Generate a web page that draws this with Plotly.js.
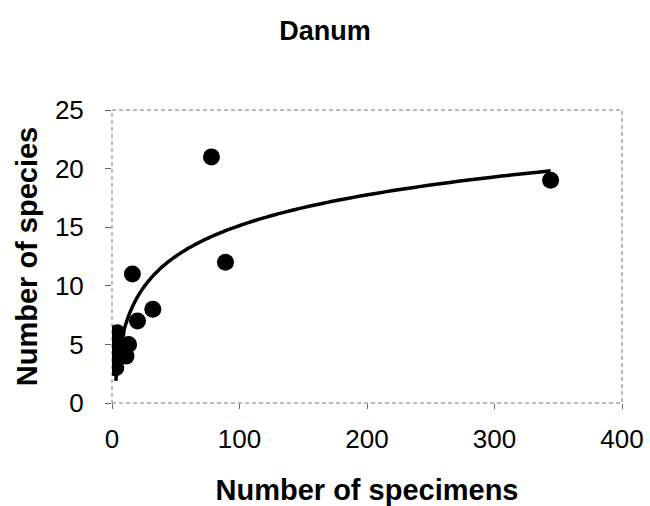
<!DOCTYPE html>
<html>
<head>
<meta charset="utf-8">
<script src="https://cdn.plot.ly/plotly-3.0.1.min.js"></script>
<style>
  html, body { margin: 0; padding: 0; background: #ffffff; }
  #chart { width: 650px; height: 506px; }
</style>
</head>
<body>
<div id="chart"></div>
<script>
// Data
const specimens = [3, 4, 5, 5, 11, 13, 16, 20, 32, 78, 89, 344];
const species   = [3, 6, 5, 4, 4, 5, 11, 7, 8, 21, 12, 19];

// Logarithmic trendline (y = a*ln(x) + b)
const trendA = 3.78;
const trendB = -2.27;

const xTickVals = [0, 100, 200, 300, 400];
const yTickVals = [0, 5, 10, 15, 20, 25];

const chartTitle = 'Danum';
const xTitle = 'Number of specimens';
const yTitle = 'Number of species';

// build trendline over the data's x span
const xMin = Math.min(...specimens), xMax = Math.max(...specimens);
const trendX = [], trendY = [];
const steps = 200;
for (let i = 0; i <= steps; i++) {
  const t = i / steps;
  const x = Math.exp(Math.log(xMin) + t * (Math.log(xMax) - Math.log(xMin)));
  trendX.push(x);
  trendY.push(trendA * Math.log(x) + trendB);
}

const font = 'Liberation Sans, Arial, sans-serif';

const traces = [
  {
    x: trendX, y: trendY, type: 'scatter', mode: 'lines',
    line: { color: '#000', width: 3.5, shape: 'spline' },
    hoverinfo: 'skip', showlegend: false
  },
  {
    x: specimens, y: species, type: 'scatter', mode: 'markers',
    marker: { color: '#000', size: 17, line: { width: 0 } },
    showlegend: false
  }
];

const layout = {
  width: 650, height: 506,
  paper_bgcolor: '#fff', plot_bgcolor: '#fff',
  margin: { l: 112, r: 28, t: 110, b: 103 },
  showlegend: false,
  title: {
    text: '<b>' + chartTitle + '</b>',
    font: { family: font, size: 27, color: '#000' },
    x: 0.5, xanchor: 'center', y: 0.94, yanchor: 'middle'
  },
  xaxis: {
    range: [0, 400], tickvals: xTickVals, ticktext: xTickVals.map(String),
    showgrid: false, zeroline: false, showline: false,
    ticks: 'outside', ticklen: 5, tickcolor: '#666', tickwidth: 1,
    ticklabelstandoff: 8,
    tickfont: { family: font, size: 26, color: '#000' },
    title: { text: '<b>' + xTitle + '</b>', font: { family: font, size: 29, color: '#000' }, standoff: 28 }
  },
  yaxis: {
    range: [0, 25], tickvals: yTickVals, ticktext: yTickVals.map(String),
    showgrid: false, zeroline: false, showline: false,
    ticks: 'outside', ticklen: 6, tickcolor: '#666', tickwidth: 1,
    ticklabelstandoff: 16,
    tickfont: { family: font, size: 26, color: '#000' },
    title: { text: '<b>' + yTitle + '</b>', font: { family: font, size: 29, color: '#000' }, standoff: 8 }
  },
  shapes: [
    {
      type: 'rect', xref: 'paper', yref: 'paper', x0: 0, x1: 1, y0: 0, y1: 1,
      line: { color: '#777', width: 1, dash: '4px,3px' }, layer: 'below'
    }
  ]
};

Plotly.newPlot('chart', traces, layout, { staticPlot: true, displayModeBar: false });
</script>
</body>
</html>
